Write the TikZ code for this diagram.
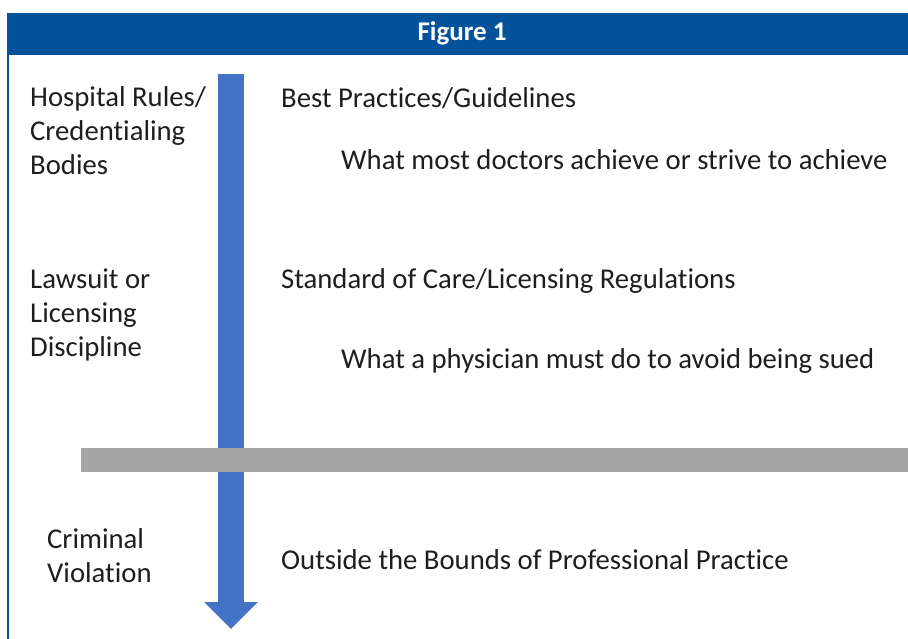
\documentclass[tikz,border=0pt]{standalone}
\usepackage{fontspec}
\setmainfont[Ligatures=NoCommon]{Carlito}
\usetikzlibrary{arrows.meta, positioning}
\definecolor{HeadBlue}{HTML}{03529A}
\definecolor{ScaleBlue}{HTML}{4472C4}
\definecolor{BarGray}{HTML}{A5A5A5}
\definecolor{Ink}{HTML}{1E1E1E}

\begin{document}
\begin{tikzpicture}[x=1pt, y=-1pt,
    side/.style={anchor=base west, inner sep=0pt, align=left,
                 font=\fontsize{28.7}{34}\selectfont, text=Ink},
    level/.style={anchor=base west, inner sep=0pt,
                  font=\fontsize{28.7}{34}\selectfont, text=Ink},
    scalearr/.style={-{Triangle[length=27pt, width=52pt]}, line width=26pt, ScaleBlue},
  ]
    \useasboundingbox (0,0) rectangle (908,639);

    % frame: title bar and left rule
    \fill[HeadBlue] (7,13) rectangle (908,55);
    \fill[HeadBlue] (7,55) rectangle (9,639);
    \node[font=\fontsize{27}{30}\selectfont\bfseries, text=white] (title) at (462,33) {Figure 1};

    % the scale arrow and the dividing bar
    \coordinate (top) at (231,74);
    \coordinate (tip) at (231,629);
    \draw[scalearr] (top) -- (tip);
    \fill[BarGray] (81,448) rectangle (908,472);

    % consequences on the left (anchored on the last line)
    \node[side] (rules) at (30,175) {Hospital Rules/\\Credentialing\\Bodies};
    \node[side] (suit) at (30,356) {Lawsuit or\\Licensing\\Discipline};
    \node[side] (crime) at (47,582) {Criminal\\Violation};

    % levels of practice on the right
    \node[level] (best) at (281,108) {Best Practices/Guidelines};
    \node[level] (most) at (341,170) {What most doctors achieve or strive to achieve};
    \node[level] (care) at (281,288) {Standard of Care/Licensing Regulations};
    \node[level] (must) at (341,368) {What a physician must do to avoid being sued};
    \node[level] (out) at (281,569) {Outside the Bounds of Professional Practice};
\end{tikzpicture}
\end{document}
